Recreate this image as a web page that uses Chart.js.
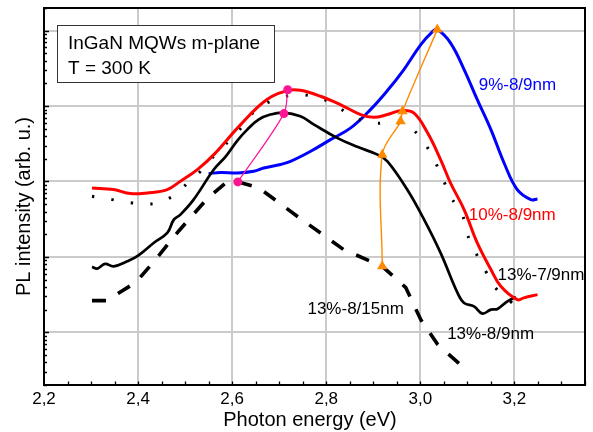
<!DOCTYPE html>
<html>
<head>
<meta charset="utf-8">
<script src="https://cdn.jsdelivr.net/npm/chart.js@4/dist/chart.umd.min.js"></script>
<style>
html,body{margin:0;padding:0;background:#fff;}
canvas{display:block;}
</style>
</head>
<body>
<canvas id="c" width="593" height="432"></canvas>
<script>
// ---- data (photon energy in eV, PL intensity in arb. u.) ----
const energy10 = [2.302,2.348,2.384,2.419,2.462,2.490,2.526,2.561,2.618,2.674,2.720,2.745,2.788,2.830,2.873,2.901,2.930,2.960,2.986,3.015,3.043,3.064,3.093,3.121,3.150,3.171,3.206,3.220,3.249];
const intensity10 = [82.2,78.1,69.1,70.6,78.1,101,144,227,568,1220,1620,1620,1350,1047,772,710,772,872,812,445,195,95.8,42.4,15.3,6.79,4.07,2.71,2.86,3.16];

const energy13_89 = [2.302,2.313,2.330,2.348,2.377,2.400,2.433,2.462,2.476,2.490,2.518,2.561,2.586,2.611,2.632,2.656,2.681,2.709,2.745,2.774,2.823,2.866,2.909,2.930,2.972,3.008,3.043,3.079,3.093,3.114,3.132,3.150,3.164,3.185,3.203];
const intensity13_89 = [7.37,7.00,8.08,7.50,8.74,10.4,15.3,20.8,31.2,36.4,57.5,144,214,349,488,662,772,820,732,568,379,288,227,185,78.1,31.2,11.3,3.33,2.45,2.21,1.77,2.00,2.04,2.58,2.95];

const energy13_79 = [2.302,2.345,2.387,2.433,2.472,2.504,2.533,2.564,2.596,2.625,2.653,2.692,2.730,2.774,2.813,2.852,2.894,2.937,2.974,3.006,3.029,3.047,3.064,3.089,3.100,3.118,3.139,3.160,3.192,3.220];
const intensity13_79 = [63.6,57.5,52.0,50.9,63.0,93.8,137,227,359,568,918,1220,1400,1350,1080,760,599,599,540,341,195,112,63.6,36.4,19.8,11.3,6.44,3.88,2.55,1.81];

const energy13_815 = [2.302,2.333,2.396,2.437,2.486,2.547,2.586,2.612,2.656,2.745,2.837,2.919,2.969,3.001,3.037,3.090];
const intensity13_815 = [2.63,2.63,4.63,9.21,21.9,59.3,95.8,98.8,83.0,32.2,12.5,7.50,3.92,1.47,0.687,0.351];

const energy9 = [2.550,2.575,2.611,2.646,2.667,2.703,2.724,2.767,2.809,2.852,2.894,2.930,2.965,3.001,3.026,3.036,3.064,3.093,3.121,3.150,3.178,3.206,3.235,3.249];
const intensity9 = [127,132,130,137,151,168,185,252,359,514,899,1606,3050,6541,9727,10340,6890,3050,1220,488,176,78.1,57.5,58.8];

// low-energy peak positions (pink circles) and high-energy peak positions (orange triangles)
const peakLowE = [2.612,2.710,2.718];
const peakLowI = [98.8,795,1650];
const peakHighE = [2.919,2.919,2.958,2.962,3.036];
const peakHighI = [7.50,227,628,853,10340];

// ---- axes ----
const xMin = 2.2, xMax = 3.35;
const yMin = 0.2, yMax = 20000;
const xTickValues = [2.2,2.4,2.6,2.8,3.0,3.2];
const xTickLabels = ['2,2','2,4','2,6','2,8','3,0','3,2'];
const yGridValues = [1,10,100,1000,10000];

// ---- texts ----
const xTitle = 'Photon energy (eV)';
const yTitle = 'PL intensity (arb. u.)';
const boxLines = ['InGaN MQWs m-plane','T = 300 K'];
const seriesLabels = ['9%-8/9nm','10%-8/9nm','13%-7/9nm','13%-8/15nm','13%-8/9nm'];
const seriesLabelAt = [[3.124,1630],[3.103,31.2],[3.164,4.89],[2.760,1.77],[3.057,0.818]];
const seriesLabelColors = ['#0000ff','#ff0000','#000000','#000000','#000000'];

const pts = (xs, ys) => xs.map((v,i)=>({x:v,y:ys[i]}));
const FONT = '"Liberation Sans", Arial, Helvetica, sans-serif';

const decor = {
  id:'decor',
  afterDraw(chart){
    const {ctx, chartArea:a, scales:{x,y}} = chart;
    ctx.save();
    ctx.strokeStyle='#000';
    // minor ticks on x
    ctx.lineWidth=1.3;
    ctx.beginPath();
    for(let i=1;i<=23;i++){
      const v = 2.2 + i*0.05;
      if (v > xMax+1e-9) break;
      const px = Math.round(x.getPixelForValue(v))+0.5;
      ctx.moveTo(px, a.bottom); ctx.lineTo(px, a.bottom-3.5);
    }
    // minor ticks on y (log)
    for(let n=-1;n<=4;n++){
      for(let k=1;k<=9;k++){
        const v = k*Math.pow(10,n);
        if (v<yMin || v>yMax) continue;
        const py = Math.round(y.getPixelForValue(v))+0.5;
        ctx.moveTo(a.left, py); ctx.lineTo(a.left+(k===1?5:3), py);
      }
    }
    ctx.stroke();
    // frame
    ctx.lineWidth=2;
    ctx.strokeRect(a.left, a.top, a.right-a.left, a.bottom-a.top);
    // tick labels
    ctx.fillStyle='#000';
    ctx.font='17px '+FONT;
    ctx.textAlign='center';
    ctx.textBaseline='alphabetic';
    xTickValues.forEach((v,i)=>{
      ctx.fillText(xTickLabels[i], x.getPixelForValue(v), a.bottom+19);
    });
    // axis titles
    ctx.font='20px '+FONT;
    ctx.fillText(xTitle, 310, 426);
    ctx.save();
    ctx.translate(29.5, 206.5);
    ctx.rotate(-Math.PI/2);
    ctx.fillText(yTitle, 0, 0);
    ctx.restore();
    // info box
    ctx.fillStyle='#fff';
    ctx.fillRect(57.5,25,217,57);
    ctx.strokeStyle='#333';
    ctx.lineWidth=1;
    ctx.strokeRect(57.5,25.5,217,57);
    ctx.fillStyle='#000';
    ctx.font='19px '+FONT;
    ctx.textAlign='left';
    ctx.fillText(boxLines[0], 68, 48.5);
    ctx.fillText(boxLines[1], 68, 73.5);
    // series labels
    ctx.font='17px '+FONT;
    seriesLabels.forEach((t,i)=>{
      ctx.fillStyle=seriesLabelColors[i];
      ctx.fillText(t, x.getPixelForValue(seriesLabelAt[i][0]), y.getPixelForValue(seriesLabelAt[i][1]));
    });
    ctx.restore();
  }
};

const gridGray = '#cbcbcb';

new Chart(document.getElementById('c'), {
  type:'line',
  data:{
    datasets:[
      {data:pts(peakHighE,peakHighI), borderColor:'#ff8a00', backgroundColor:'#ff8a00', borderWidth:1.4, tension:0.35, pointStyle:'triangle', pointRadius:6, pointBorderWidth:0},
      {data:pts(peakLowE,peakLowI), borderColor:'#ff1493', backgroundColor:'#ff1493', borderWidth:1.2, tension:0.3, pointStyle:'circle', pointRadius:4.5, pointBorderWidth:0},
      {data:pts(energy10,intensity10), borderColor:'#ff0000', borderWidth:3, pointRadius:0, tension:0.4},
      {data:pts(energy13_89,intensity13_89), borderColor:'#000000', borderWidth:2.7, pointRadius:0, tension:0.4},
      {data:pts(energy13_79,intensity13_79), borderColor:'#000000', borderWidth:3, borderDash:[2.2,17.5], pointRadius:0, tension:0.4},
      {data:pts(energy13_815,intensity13_815), borderColor:'#000000', borderWidth:3.6, borderDash:[14,14], pointRadius:0, tension:0},
      {data:pts(energy9,intensity9), borderColor:'#0000ff', borderWidth:3, pointRadius:0, tension:0.4}
    ]
  },
  options:{
    responsive:false,
    devicePixelRatio:1,
    animation:false,
    events:[],
    layout:{padding:{left:44,top:8,right:8,bottom:47}},
    plugins:{legend:{display:false},tooltip:{enabled:false}},
    scales:{
      x:{
        type:'linear', min:xMin, max:xMax,
        afterBuildTicks:(s)=>{ s.ticks = xTickValues.map(v=>({value:v})); },
        ticks:{display:false},
        border:{display:false},
        grid:{drawTicks:false, lineWidth:2, color:(c)=> (c.tick && Math.abs(c.tick.value-2.2)<1e-9) ? 'rgba(0,0,0,0)' : gridGray}
      },
      y:{
        type:'logarithmic', min:yMin, max:yMax,
        afterBuildTicks:(s)=>{ s.ticks = yGridValues.map(v=>({value:v})); },
        ticks:{display:false},
        border:{display:false},
        grid:{drawTicks:false, lineWidth:2, color:gridGray}
      }
    }
  },
  plugins:[decor]
});
</script>
</body>
</html>
